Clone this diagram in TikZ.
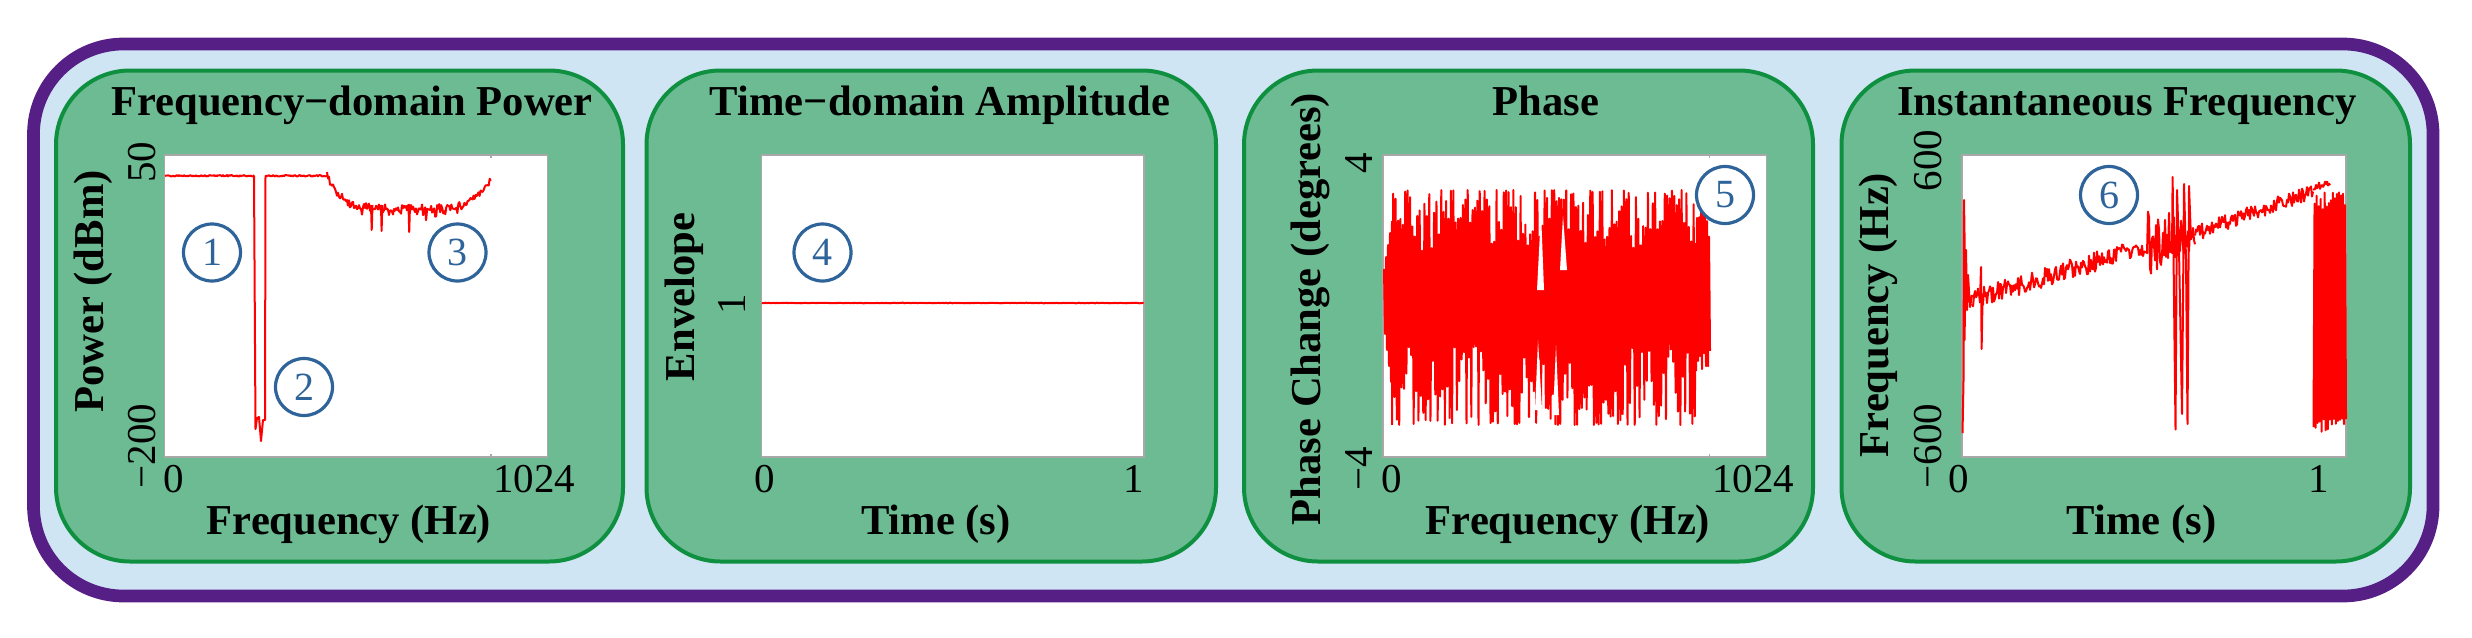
\documentclass[tikz,border=0pt]{standalone}
\usepackage{fontspec}
\setmainfont{Liberation Serif}
\usetikzlibrary{calc}
\definecolor{framepurple}{HTML}{561F86}
\definecolor{backblue}{HTML}{CFE5F3}
\definecolor{panelgreen}{HTML}{6CBB93}
\definecolor{paneledge}{HTML}{0F9040}
\definecolor{plotedge}{HTML}{A8A8A8}
\definecolor{markblue}{HTML}{2E6499}
\newcommand{\panelt}{70.5}
\newcommand{\panelb}{561.5}
\newcommand{\plott}{155}
\newcommand{\plotb}{457}
\newcommand{\titley}{115.5}
\newcommand{\ticky}{492}
\newcommand{\xlaby}{534.5}
\newcommand{\panelbox}[2]{
  \draw[panelframe] (#1,\panelt) rectangle (#2,\panelb);
}
\newcommand{\plotbox}[2]{
  \draw[plotframe] (#1,\plott) rectangle (#2,\plotb);
}
\newcommand{\noisyline}[5]{
  \pgfmathtruncatemacro{\noisysteps}{abs(#3-#1)+1}
  \draw[trace] plot[domain=#1:#3,samples=\noisysteps]
    (\x,{#2+(\x-#1)/(#3-#1)*(#4-#2)+#5*rand});
}
\tikzset{
  panelframe/.style={draw=paneledge,fill=panelgreen,line width=2pt,rounded corners=37pt},
  plotframe/.style={draw=plotedge,fill=white,line width=.8pt},
  trace/.style={draw=red,line width=1pt,line join=round},
  titletxt/.style={font=\bfseries\fontsize{21.3}{23}\selectfont,inner sep=0pt},
  ylabeltxt/.style={titletxt,rotate=90},
  ticktxt/.style={font=\fontsize{20.5}{22}\selectfont,inner sep=0pt},
  ytick/.style={ticktxt,rotate=90},
  markcirc/.style={circle,draw=markblue,line width=1.6pt,minimum size=28.5pt,inner sep=0pt,
    anchor=center,text=markblue,font=\fontsize{20}{22}\selectfont},
}
\begin{document}
\begin{tikzpicture}[anchor=base,x=.5pt,y=-.5pt]
  \useasboundingbox (0,0) rectangle (2472,637);
  % outer frame
  \draw[draw=framepurple,fill=backblue,line width=6.35pt,rounded corners=45pt]
    (33.5,44) rectangle (2433,596);
  % panels
  \panelbox{56}{623}
  \panelbox{646.5}{1216}
  \panelbox{1244}{1813}
  \panelbox{1841.5}{2410}
  % plot areas
  \plotbox{164.5}{547.5}
  \plotbox{761.5}{1144}
  \plotbox{1383}{1766.5}
  \plotbox{1962}{2346}
  \draw[plotframe] (490.7,\plott) -- +(0,3) (490.7,\plotb) -- +(0,-3);
  \draw[plotframe] (1709.6,\plott) -- +(0,3) (1709.6,\plotb) -- +(0,-3);

  % power part
  \pgfmathsetseed{11}
  \noisyline{165}{175.8}{254}{175.8}{.7}
  \draw[trace] (254,175.8) -- (255.5,429) -- (257,418) -- (259,417) -- (261,441) -- (263,420)
    -- (265,420) -- (265.5,176) -- (267,175.8);
  \noisyline{267}{175.8}{327}{175.8}{.7}
  \draw[trace] plot[domain=327:415,samples=89]
    (\x,{208-32*pow((415-\x)/88,6)+4*rand+11*pow(rnd,4)*(\x-327)/88});
  \draw[trace] plot[domain=415:490.7,samples=76]
    (\x,{208-27*pow((\x-415)/75.7,4)+4*rand+13*pow(rnd,4)*(490-\x)/75});
  \draw[trace] (371,205) -- (371.7,230) -- (372.5,205) (381,205) -- (381.6,231) -- (382.3,205)
    (408.5,205) -- (409.2,232) -- (410,205);

  % amplitude part
  \noisyline{762}{303}{1143.5}{303}{.3}

  % phase part
  \pgfmathsetseed{5}
  \draw[trace] plot[domain=1384:1392,samples=9]
    (\x,{269-(\x-1384)*6+mod(round(\x),2)*(57+(\x-1384)*14)});
  \draw[trace] plot[domain=1392:1696,samples=254]
    (\x,{mod(round((\x-1392)/1.2),2)*(190+62*pow(rnd,2))
      +(1-mod(round((\x-1392)/1.2),2))*(425-80*pow(rnd,2))});
  \draw[trace] plot[domain=1696:1710,samples=15]
    (\x,{mod(round(\x),2)*(212+38*rnd)+(1-mod(round(\x),2))*(372-22*rnd)});
  \fill[white] (1537,290) -- (1541,212) -- (1544,290) -- cycle
    (1560,270) -- (1563,216) -- (1567,270) -- cycle
    (1535,410) -- (1538,340) -- (1542,410) -- cycle
    (1553,415) -- (1556,345) -- (1559,415) -- cycle;

  % instantaneous frequency part
  \pgfmathsetseed{3}
  \draw[trace] (1962.5,433) -- (1963.5,380) -- (1964,200) -- (1965,270) -- (1964.5,340)
    -- (1966,250) -- (1967,310) -- (1968,275) -- (1970,307) -- (1972,295);
  \noisyline{1972}{300}{2146}{246}{10}
  \draw[trace] (1980,300) -- (1981,267) -- (1981.6,349) -- (1982.5,300);
  \noisyline{2146}{245}{2176}{232}{34}
  \draw[trace] (2172,250) -- (2172.6,177) -- (2175.5,429.5) -- (2177,190) -- (2179,250)
    -- (2182,414) -- (2184,184) -- (2186,260) -- (2187.5,424) -- (2189,186) -- (2191,240);
  \noisyline{2176}{240}{2195}{234}{18}
  \noisyline{2195}{234}{2313}{191}{8}
  \noisyline{2313}{187}{2330}{184}{4}
  \draw[trace] plot[domain=2313.5:2346,samples=33]
    (\x,{mod(round(\x),2)*(190+20*rnd)+(1-mod(round(\x),2))*(432-14*rnd)});

  % title row
  \node[titletxt] (powertitle) at (352,\titley) {Frequency−domain Power};
  \node[titletxt] (amptitle) at (940,\titley) {Time−domain Amplitude};
  \node[titletxt] (phasetitle) at (1546,\titley) {Phase};
  \node[titletxt] (freqtitle) at (2127,\titley) {Instantaneous Frequency};
  % x labels
  \node[titletxt] (powerxlab) at (349,\xlaby) {Frequency (Hz)};
  \node[titletxt] (ampxlab) at (936,\xlaby) {Time (s)};
  \node[titletxt] (phasexlab) at (1568,\xlaby) {Frequency (Hz)};
  \node[titletxt] (freqxlab) at (2141.5,\xlaby) {Time (s)};
  % y labels
  \node[ylabeltxt] (powerylab) at (103.5,291.5) {Power (dBm)};
  \node[ylabeltxt] (ampylab) at (694,297) {Envelope};
  \node[ylabeltxt] (phaseylab) at (1320,309) {Phase Change (degrees)};
  \node[ylabeltxt] (freqylab) at (1888,315) {Frequency (Hz)};
  % x ticks
  \node[ticktxt] (powerxa) at (174,\ticky) {0};
  \node[ticktxt] (powerxb) at (534,\ticky) {1024};
  \node[ticktxt] (ampxa) at (765,\ticky) {0};
  \node[ticktxt] (ampxb) at (1134,\ticky) {1};
  \node[ticktxt] (phasexa) at (1392,\ticky) {0};
  \node[ticktxt] (phasexb) at (1753,\ticky) {1024};
  \node[ticktxt] (freqxa) at (1959,\ticky) {0};
  \node[ticktxt] (freqxb) at (2318.5,\ticky) {1};
  % y ticks
  \node[ytick] (powerya) at (155,446) {−200};
  \node[ytick] (poweryb) at (155,162) {50};
  \node[ytick] (ampya) at (745.5,304) {1};
  \node[ytick] (phaseya) at (1372,469) {−4};
  \node[ytick] (phaseyb) at (1372,163) {4};
  \node[ytick] (freqya) at (1941,446) {−600};
  \node[ytick] (freqyb) at (1941,160.5) {600};
  % numbered marks
  \node[markcirc] (markone) at (212,252.5) {1};
  \node[markcirc] (marktwo) at (304,387) {2};
  \node[markcirc] (markthree) at (457.5,252.5) {3};
  \node[markcirc] (markfour) at (822.5,252.5) {4};
  \node[markcirc] (markfive) at (1725,195) {5};
  \node[markcirc] (marksix) at (2109,195) {6};
\end{tikzpicture}
\end{document}
